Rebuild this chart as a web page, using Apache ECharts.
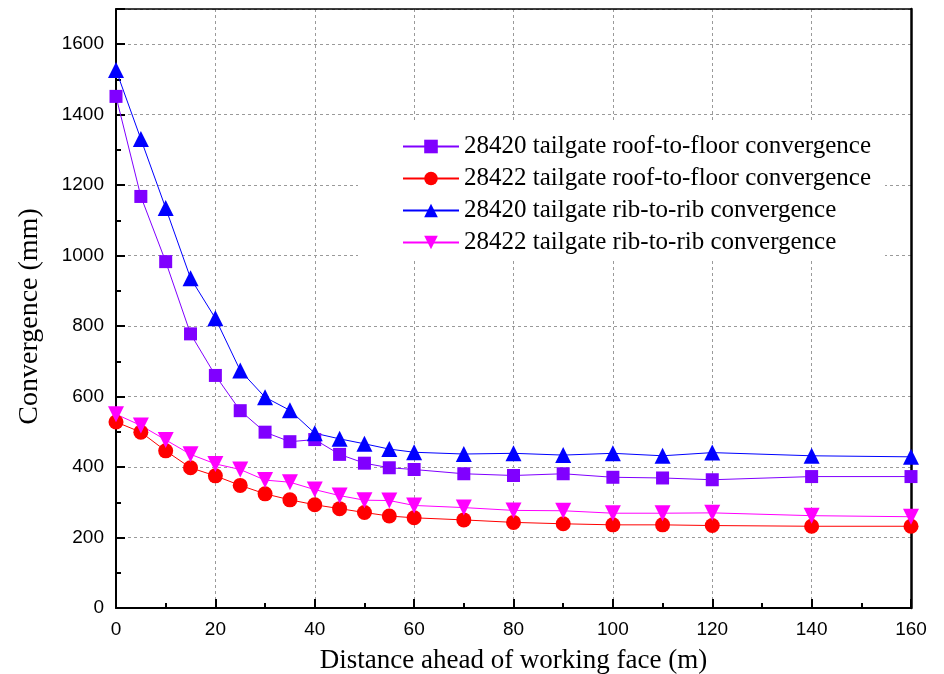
<!DOCTYPE html>
<html>
<head>
<meta charset="utf-8">
<script src="https://cdn.jsdelivr.net/npm/echarts@6/dist/echarts.min.js"></script>
<style>html,body{margin:0;padding:0;background:#fff}#c{width:944px;height:674px}</style>
</head>
<body>
<div id="c"></div>
<script>
const distance = [0,5,10,15,20,25,30,35,40,45,50,55,60,70,80,90,100,110,120,140,160];
const roof28420 = [1452,1168,983,778,660,560,499,472,478,436,411,398,393,381,376,381,371,369,364,373,373];
const roof28422 = [528,499,446,398,375,348,324,307,293,282,271,261,256,250,243,239,236,236,234,232,232];
const rib28420 = [1527,1331,1135,936,822,674,598,561,496,480,466,451,442,437,439,434,439,432,441,432,429];
const rib28422 = [550,518,477,436,409,393,363,357,336,319,306,305,291,285,277,276,269,269,270,262,259];
const names = [
  '28420 tailgate roof-to-floor convergence',
  '28422 tailgate roof-to-floor convergence',
  '28420 tailgate rib-to-rib convergence',
  '28422 tailgate rib-to-rib convergence'
];
const xTitle = 'Distance ahead of working face (m)';
const yTitle = 'Convergence (mm)';

function pairs(vals){ return distance.map((d,i)=>[d, vals[i]]); }

const chart = echarts.init(document.getElementById('c'), null, {renderer:'canvas'});
const gridLine = {show:true, lineStyle:{color:'#9a9a9a', type:[3,3], width:1}};
function mkSeries(name, vals, color, symbol, size, rot){
  return {
    name, type:'line', data:pairs(vals), symbol, symbolSize:size, symbolRotate:rot||0,
    lineStyle:{color, width:1}, itemStyle:{color}, z:3, animation:false
  };
}
chart.setOption({
  backgroundColor:'#fff',
  animation:false,
  grid:{left:116, right:33, top:9, bottom:66, containLabel:false, outerBoundsMode:'none'},
  legend:{
    orient:'vertical', left:358, top:120,
    padding:[14,14,3,44],
    backgroundColor:'#fff',
    itemWidth:56, itemHeight:17, itemGap:7, itemTextGap:7,
    textStyle:{fontFamily:'Liberation Serif', fontSize:25, color:'#000', lineHeight:22},
    z:2
  },
  xAxis:[{
    type:'value', min:0, max:160, interval:20,
    name:xTitle, nameLocation:'middle', nameGap:39,
    nameTextStyle:{fontFamily:'Liberation Serif', fontSize:27, color:'#000'},
    axisLine:{show:true, onZero:false, lineStyle:{color:'#000', width:2}},
    axisTick:{show:true, inside:true, length:9, lineStyle:{color:'#000', width:2}},
    minorTick:{show:true, splitNumber:2, length:5, lineStyle:{color:'#000', width:2}},
    axisLabel:{fontFamily:'Liberation Sans', fontSize:19, color:'#000', margin:12},
    splitLine:gridLine
  },{
    type:'value', min:0, max:160, interval:20, position:'top',
    axisLine:{show:true, onZero:false, lineStyle:{color:'#000', width:1.5}},
    axisTick:{show:false}, axisLabel:{show:false}, splitLine:{show:false}
  }],
  yAxis:[{
    type:'value', min:0, max:1700, interval:200,
    name:yTitle, nameLocation:'middle', nameGap:72, nameRotate:90,
    nameTextStyle:{fontFamily:'Liberation Serif', fontSize:28, color:'#000', padding:[0,16,0,0]},
    axisLine:{show:true, onZero:false, lineStyle:{color:'#000', width:2}},
    axisTick:{show:true, inside:true, length:9, lineStyle:{color:'#000', width:2}},
    minorTick:{show:true, splitNumber:2, length:5, lineStyle:{color:'#000', width:2}},
    axisLabel:{fontFamily:'Liberation Sans', fontSize:19, color:'#000', margin:12,
      formatter:v=> v>1600?'':String(v)},
    splitLine:gridLine
  },{
    type:'value', min:0, max:1700, interval:200, position:'right',
    axisLine:{show:true, onZero:false, lineStyle:{color:'#000', width:2.5}},
    axisTick:{show:false}, axisLabel:{show:false}, splitLine:{show:false}
  }],
  series:[
    mkSeries(names[0], roof28420, '#8000ff', 'rect', 13),
    mkSeries(names[1], roof28422, '#ff0000', 'circle', 15),
    mkSeries(names[2], rib28420, '#0000ff', 'triangle', 16),
    mkSeries(names[3], rib28422, '#ff00ff', 'triangle', 16, 180)
  ]
});
</script>
</body>
</html>
